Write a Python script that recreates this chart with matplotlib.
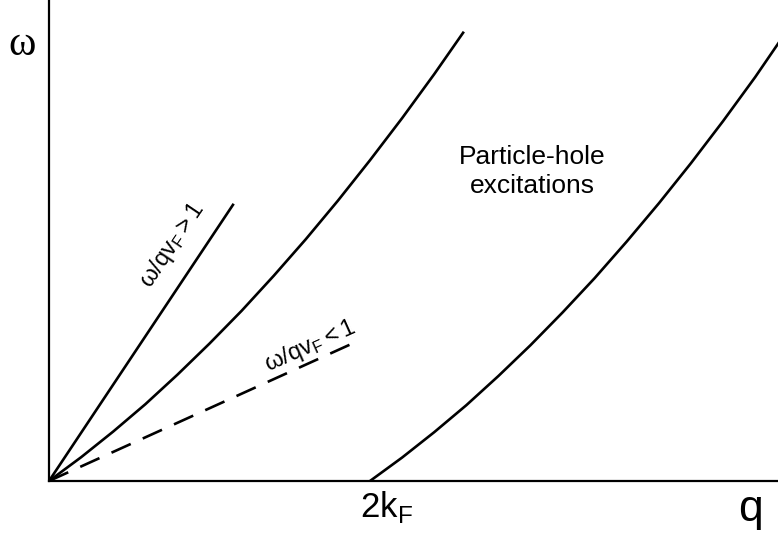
import matplotlib
matplotlib.use("Agg")
import matplotlib.pyplot as plt

plt.rcParams['font.family'] = ['Liberation Sans', 'DejaVu Sans']

# q in units of 2k_F, omega in the same units
upper_q = [0.0, 0.1, 0.2, 0.3, 0.4, 0.5, 0.6, 0.7, 0.8, 0.9, 1.0, 1.1, 1.2, 1.29]
upper_w = [0.0, 0.074, 0.154, 0.239, 0.331, 0.428, 0.530, 0.639, 0.753,
           0.873, 0.999, 1.130, 1.267, 1.396]

lower_q = [1.0, 1.1, 1.2, 1.3, 1.4, 1.5, 1.6, 1.7, 1.8, 1.9, 2.0, 2.1, 2.2, 2.3]
lower_w = [0.0, 0.073, 0.152, 0.236, 0.327, 0.423, 0.525, 0.632, 0.746,
           0.865, 0.990, 1.121, 1.258, 1.404]

plasmon_q = [0.0, 0.573]
plasmon_w = [0.0, 0.860]

sound_q = [0.0, 0.969]
sound_w = [0.0, 0.439]

fig = plt.figure(figsize=(7.78, 5.37), dpi=100)
ax = fig.add_axes([49 / 778, 56 / 537, 729 / 778, 481 / 537])
ax.set_xlim(0, 2.271)
ax.set_ylim(0, 1.498)

ax.plot(upper_q, upper_w, color='black', lw=1.9)
ax.plot(lower_q, lower_w, color='black', lw=1.9)
ax.plot(plasmon_q, plasmon_w, color='black', lw=1.9)
ax.plot(sound_q, sound_w, color='black', lw=1.9, dashes=(8, 5))

for s in ['top', 'right']:
    ax.spines[s].set_visible(False)
for s in ['left', 'bottom']:
    ax.spines[s].set_linewidth(1.6)
ax.set_xticks([])
ax.set_yticks([])

# axis labels
fig.text(22 / 778, 1 - 45 / 537, 'ω', family='Liberation Serif', fontsize=30,
         ha='center', va='center')
fig.text(751 / 778, 1 - 509 / 537, 'q', fontsize=32, ha='center', va='center')
fig.text(386 / 778, 1 - 507 / 537, r'2k$_\mathregular{F}$', fontsize=25,
         ha='center', va='center')

ax.text(1.505, 0.963, 'Particle-hole\nexcitations', fontsize=19,
        ha='center', va='center', linespacing=1.25)

ax.text(0.385, 0.735, r'$\mathregular{\omega/qv_F > 1}$', fontsize=17,
        rotation=56, ha='center', va='center', rotation_mode='anchor')
ax.text(0.813, 0.420, r'$\mathregular{\omega/qv_F < 1}$', fontsize=17,
        rotation=24, ha='center', va='center', rotation_mode='anchor')

fig.savefig('out.png', dpi=100)
